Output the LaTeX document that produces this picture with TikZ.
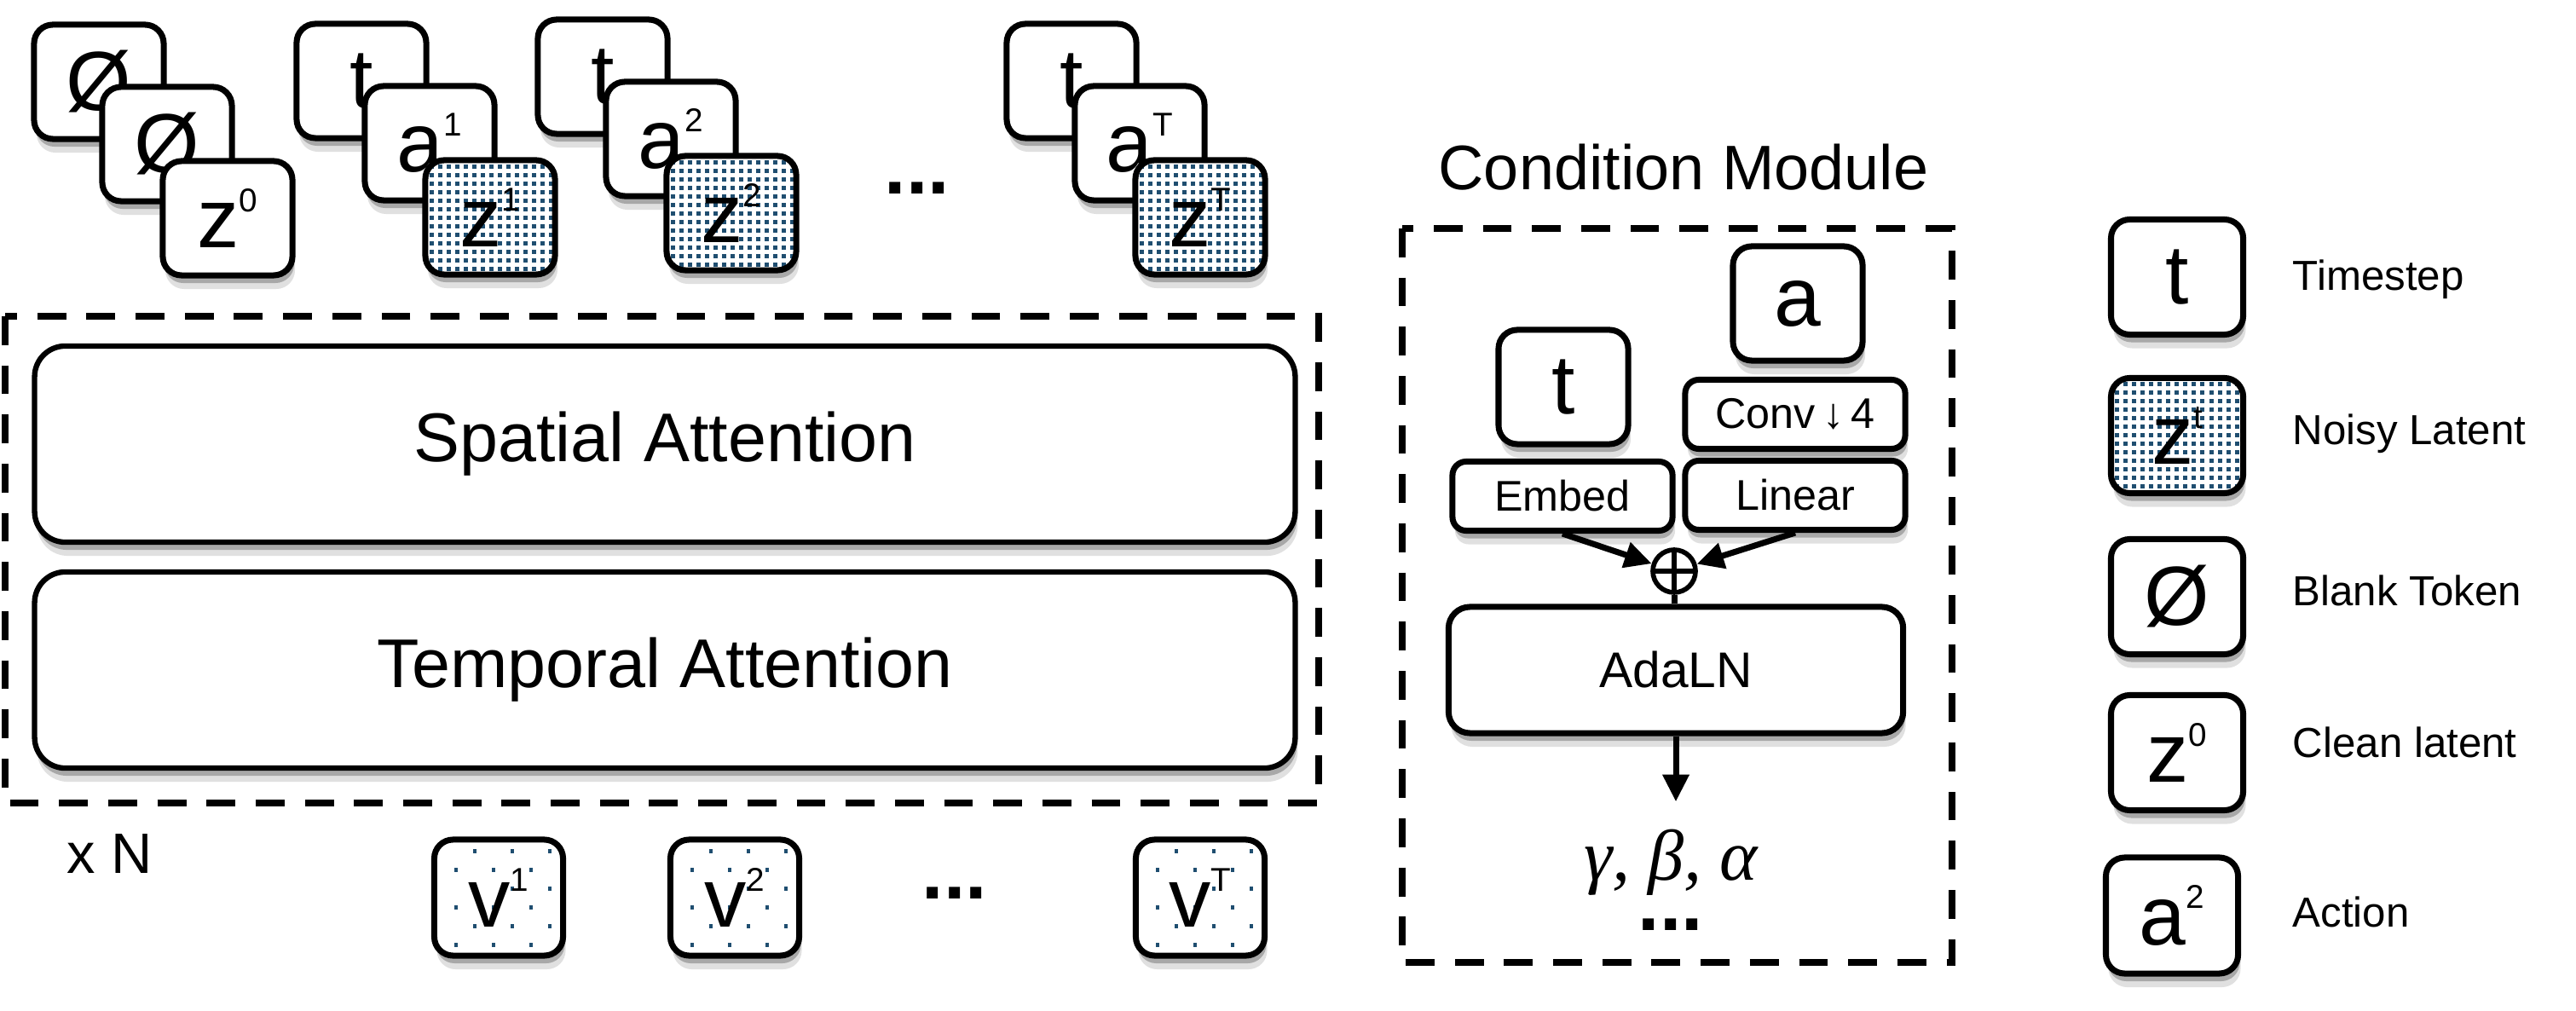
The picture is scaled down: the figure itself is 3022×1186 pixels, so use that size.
\documentclass[tikz,border=0pt]{standalone}
\usepackage{fontspec}
\setmainfont{Liberation Sans}
\newfontfamily\greekit{Liberation Serif}
\usetikzlibrary{arrows.meta,positioning,calc,shadows}
\definecolor{DotBlue}{RGB}{31,78,112}
\newcommand{\tkn}[2]{#1\raisebox{12pt}{\fontsize{11}{12}\selectfont #2}}

\begin{document}
\begin{tikzpicture}[x=0.01cm,y=-0.01cm,
          sh/.style={drop shadow={shadow xshift=0.2mm,shadow yshift=-0.9mm,opacity=.25,fill=black},
                     drop shadow={shadow xshift=0.3mm,shadow yshift=-1.6mm,opacity=.12,fill=black}},
          tk/.style={draw,line width=2pt,rounded corners=2.2mm,fill=white,sh,
                     minimum width=1.52cm,minimum height=1.34cm,inner sep=0pt,
                     font=\fontsize{28}{30}\selectfont},
          noisy/.style={path picture={
                     \foreach \i in {0,...,15}{\foreach \j in {0,...,13}{
                       \fill[DotBlue,sharp corners] ($(path picture bounding box.north west)+(5+\i*10,5+\j*10)$) rectangle ++(5,5);}}}},
          sparse/.style={path picture={
                     \foreach \j in {0,...,5}{\foreach \i in {0,...,3}{
                       \fill[DotBlue,sharp corners] ($(path picture bounding box.north west)+({24+\i*44+mod(\j+1,2)*22},{11+\j*22})$) rectangle ++(4,5);}}}},
          att/.style={draw,line width=1.8pt,rounded corners=3.6mm,fill=white,sh,
                     minimum width=14.78cm,minimum height=2.3cm,font=\fontsize{23}{26}\selectfont},
          op/.style={draw,line width=2pt,rounded corners=1.6mm,fill=white,sh,
                     minimum width=2.58cm,minimum height=0.81cm,inner sep=0pt,
                     font=\fontsize{14.3}{16}\selectfont},
          oplus/.style={circle,draw,line width=1.6pt,fill=white,minimum size=0.5cm,inner sep=0pt,
                     path picture={\draw[line width=1.6pt]
                       (path picture bounding box.north) -- (path picture bounding box.south)
                       (path picture bounding box.west) -- (path picture bounding box.east);}},
          dsh/.style={line width=2.3pt,dash pattern=on 9.6pt off 6.8pt},
          ar/.style={-{Triangle[length=9pt,width=8.5pt]},line width=2pt},
          lbl/.style={font=\fontsize{14}{16}\selectfont,text height=10pt,text depth=0pt,inner sep=0pt},
          dots/.style={font=\fontsize{26}{26}\selectfont\bfseries,inner sep=0pt,text height=4pt,text depth=0pt}
        ]
          \useasboundingbox (0,0) rectangle (3022,1186);

          % input tokens
          \node(b1)[tk] at (116,96){Ø};
          \node(b2)[tk] at ($(b1)+(80,73)$){Ø};
          \node(z0)[tk] at ($(b2)+(71,87)$){\tkn{z}{0}};
          \foreach \g/\x/\y/\s in {1/424/95/1,2/707/90/2,3/1257/95/T}{
            \node(t\g)[tk] at (\x,\y){t};
            \node(a\g)[tk] at ($(t\g)+(80,73)$){\tkn{a}{\s}};
            \node(z\g)[tk,noisy] at ($(a\g)+(71,87)$){\tkn{z}{\s}};
          }
          \node(topdots)[dots] at (1076,220){...};

          % transformer block
          \draw[dsh] (6,371) rectangle (1547,942);
          \node(sa)[att] at (780,521){Spatial Attention};
          \node(ta)[att] at (780,786){Temporal Attention};
          \node(xn)[font=\fontsize{19}{22}\selectfont] at (129,1002){x N};

          \foreach \i/\x/\s in {1/585/1,2/862/2,3/1408/T}
            \node(v\i)[tk,sparse,minimum width=1.51cm,minimum height=1.36cm] at (\x,1053){\tkn{v}{\s}};
          \node(vdots)[dots] at (1120,1047){...};

          % condition module
          \node(cm)[font=\fontsize{21}{24}\selectfont] at (1975,196){Condition Module};
          \draw[dsh] (1645,268) rectangle (2290,1129);
          \node(ca)[tk] at (2109,356){a};
          \node(ct)[tk] at (1834,454){t};
          \node(conv)[op] at (2106,486){Conv\,↓\,4};
          \node(emb)[op] at (1833,582){Embed};
          \node(lin)[op] at (2106,581){Linear};
          \node(add)[oplus] at (1964,670){};
          \node(ada)[op,minimum width=5.33cm,minimum height=1.48cm,rounded corners=2.5mm,
                     font=\fontsize{16.7}{19}\selectfont] at (1966,786){AdaLN};
          \node(gba)[align=center,inner sep=0pt,anchor=north,font=\fontsize{24}{17}\selectfont]
               at (1960,972){{\greekit\itshape γ, β, α}\\{\fontsize{26}{17}\selectfont\bfseries ...}};

          \draw[ar] (emb.south) -- (add);
          \draw[ar] (lin.south) -- (add);
          \draw[line width=2pt] (add) -- (add |- ada.north);
          \draw[ar,shorten >=9pt] (ada.south) -- (ada.south |- gba.north);

          % legend
          \node(lt)[tk,minimum width=1.55cm,minimum height=1.35cm] at (2554,325){t};
          \node(lz)[tk,noisy,minimum width=1.55cm,minimum height=1.35cm] at (2554,511){\tkn{z}{t}};
          \node(lb)[tk,minimum width=1.55cm,minimum height=1.35cm] at (2554,700){Ø};
          \node(lc)[tk,minimum width=1.55cm,minimum height=1.35cm] at (2554,883){\tkn{z}{0}};
          \node(la)[tk,minimum width=1.55cm,minimum height=1.36cm] at (2548,1074){\tkn{a}{2}};
          \node[lbl,right=0.54cm of lt,yshift=0.2mm]{Timestep};
          \node[lbl,right=0.54cm of lz,yshift=0.7mm]{Noisy Latent};
          \node[lbl,right=0.54cm of lb,yshift=0.7mm]{Blank Token};
          \node[lbl,right=0.54cm of lc,yshift=1.2mm]{Clean latent};
          \node[lbl,right=0.6cm of la,yshift=0.4mm]{Action};
        \end{tikzpicture}
\end{document}
